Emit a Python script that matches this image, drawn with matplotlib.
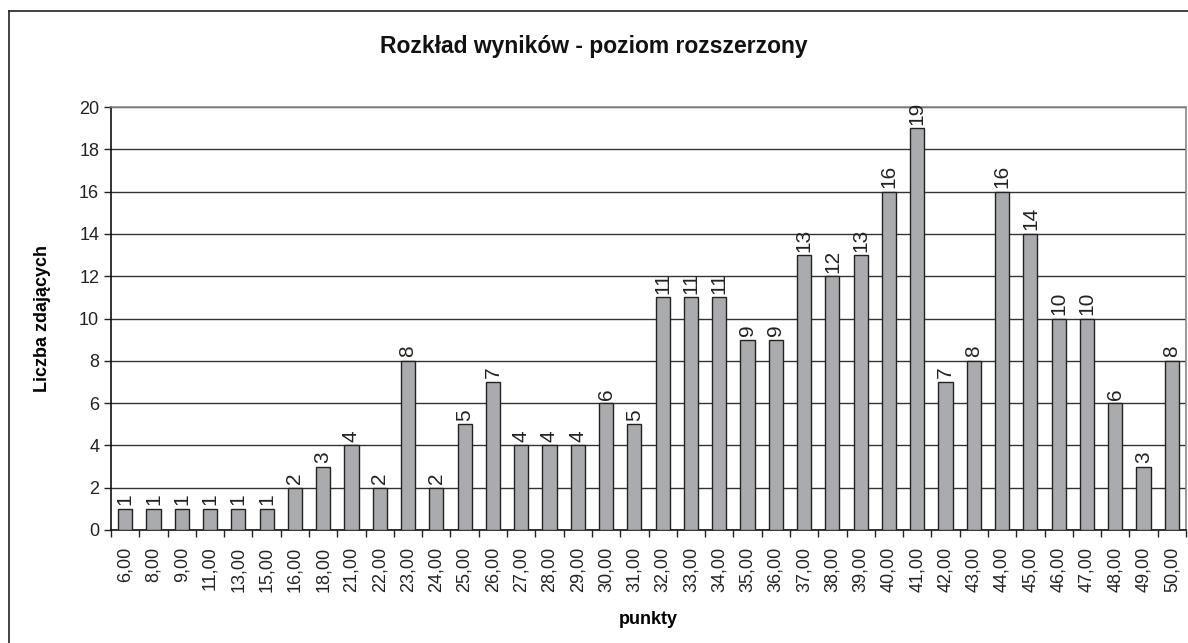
import matplotlib.pyplot as plt
from matplotlib.lines import Line2D
from matplotlib.ticker import FixedLocator, NullFormatter

# ---------- Data ----------
punkty = [6, 8, 9, 11, 13, 15, 16, 18, 21, 22, 23, 24, 25, 26, 27, 28, 29, 30, 31,
          32, 33, 34, 35, 36, 37, 38, 39, 40, 41, 42, 43, 44, 45, 46, 47, 48, 49, 50]
liczba = [1, 1, 1, 1, 1, 1, 2, 3, 4, 2, 8, 2, 5, 7, 4, 4, 4, 6, 5,
          11, 11, 11, 9, 9, 13, 12, 13, 16, 19, 7, 8, 16, 14, 10, 10, 6, 3, 8]
tick_labels = [f"{p},00" for p in punkty]
y_ticks = list(range(0, 21, 2))

plt.rcParams['font.family'] = ['Liberation Sans', 'DejaVu Sans']

fig = plt.figure(figsize=(11.88, 6.43), dpi=100)
ax = fig.add_axes([111 / 1188, 1 - 530 / 643, (1186 - 111) / 1188, (530 - 107) / 643])

x = list(range(len(punkty)))
ax.bar(x, liczba, width=0.5, color='#A9ABAE', edgecolor='#222222', linewidth=1.0, zorder=3)

# value labels above bars (rotated like in the original)
for xi, v in zip(x, liczba):
    ax.annotate(str(v), (xi, v), xytext=(0, 2.5), textcoords='offset points',
                rotation=90, ha='center', va='bottom', fontsize=15, color='#222222')

ax.set_xlim(-0.5, len(punkty) - 0.5)
ax.set_ylim(0, 20)
ax.set_yticks(y_ticks)
ax.yaxis.grid(True, color='#333333', linewidth=1.0, zorder=0)
ax.tick_params(axis='y', labelsize=13, length=5, width=1, direction='out', colors='#222222')

# category labels centred, ticks between categories
ax.set_xticks(x)
ax.set_xticklabels(tick_labels, rotation=90, fontsize=13)
ax.tick_params(axis='x', which='major', length=0, pad=12, colors='#222222')
ax.xaxis.set_minor_locator(FixedLocator([i - 0.5 for i in range(len(punkty) + 1)]))
ax.xaxis.set_minor_formatter(NullFormatter())
ax.tick_params(axis='x', which='minor', length=5, width=1, direction='out', color='#222222')

for side in ['left', 'bottom']:
    ax.spines[side].set_color('#111111')
    ax.spines[side].set_linewidth(1.2)
for side in ['top', 'right']:
    ax.spines[side].set_color('#888888')
    ax.spines[side].set_linewidth(1.2)

ax.set_xlabel('punkty', fontsize=13, fontweight='bold', labelpad=14)
ax.set_ylabel('Liczba zdających', fontsize=13, fontweight='bold', labelpad=20)
fig.text(0.5, 1 - 47 / 643, 'Rozkład wyników - poziom rozszerzony', ha='center', va='center',
         fontsize=16.5, fontweight='bold', color='#111111')

# outer chart frame (left and top edges visible)
fig.add_artist(Line2D([9 / 1188, 9 / 1188], [0, 1 - 11 / 643], color='#222222', linewidth=1.2))
fig.add_artist(Line2D([9 / 1188, 1], [1 - 11 / 643, 1 - 11 / 643], color='#222222', linewidth=1.2))

fig.savefig('out.png', dpi=100)
